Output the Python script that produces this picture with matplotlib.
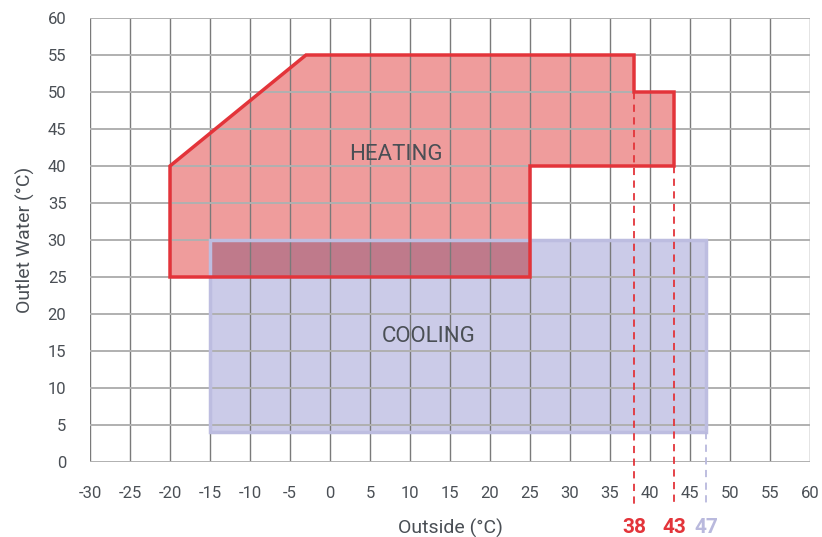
import matplotlib.pyplot as plt
from matplotlib.patches import Polygon, Rectangle

# heating envelope (outside temp, outlet water temp)
heat_x = [-20, -20, -3, 38, 38, 43, 43, 25, 25]
heat_y = [25, 40, 55, 55, 50, 50, 40, 40, 25]

# cooling envelope
cool_x = [-15, 47]
cool_y = [4, 30]

# limit markers
limits = [38, 43, 47]
limit_from = [50, 40, 4]
limit_colors = ['#e3343a', '#e3343a', '#b9b9dd']

xticks = list(range(-30, 61, 5))
yticks = list(range(0, 61, 5))

red = '#e3343a'
lav = '#bdbde0'
txt = '#4a4f55'

plt.rcParams['font.family'] = ['Roboto', 'DejaVu Sans']
plt.rcParams['axes.unicode_minus'] = False

fig = plt.figure(figsize=(8.22, 5.37), dpi=100)
ax = fig.add_axes([90 / 822, 1 - 462 / 537, 720 / 822, 444 / 537])
ax.set_xlim(-30, 60)
ax.set_ylim(0, 60)

# fills
ax.add_patch(Rectangle((cool_x[0], cool_y[0]), cool_x[1] - cool_x[0], cool_y[1] - cool_y[0],
                       facecolor='#cbcbe8', edgecolor='none', zorder=1))
ax.add_patch(Polygon(list(zip(heat_x, heat_y)), closed=True,
                     facecolor='#ef9c9c', edgecolor='none', zorder=1))
# overlap area
ov_x0 = max(cool_x[0], min(heat_x))
ov_x1 = 25
ov_y0 = min(heat_y)
ov_y1 = cool_y[1]
ax.add_patch(Rectangle((ov_x0, ov_y0), ov_x1 - ov_x0, ov_y1 - ov_y0,
                       facecolor='#bf7a8b', edgecolor='none', zorder=1.5))

# grid
for x in xticks:
    ax.axvline(x, color='#7a7a7a', lw=1, zorder=2)
for y in yticks:
    ax.axhline(y, color='#b0b0b0', lw=1.4, zorder=2)

# outlines
ax.add_patch(Rectangle((cool_x[0], cool_y[0]), cool_x[1] - cool_x[0], cool_y[1] - cool_y[0],
                       facecolor='none', edgecolor=lav, lw=2.5, zorder=3))
ax.add_patch(Polygon(list(zip(heat_x, heat_y)), closed=True,
                     facecolor='none', edgecolor=red, lw=2.5, joinstyle='miter', zorder=4))

# limit dashes and labels
for xv, y0, c in zip(limits, limit_from, limit_colors):
    ax.plot([xv, xv], [y0, -5.9], color=c, lw=1.3, ls=(0, (4, 3)), clip_on=False, zorder=5)
    ax.text(xv, -8.9, str(xv), color=c, fontsize=15, fontweight='bold',
            ha='center', va='center', clip_on=False)

ax.text(8.2, 41.6, 'HEATING', fontsize=16, color=txt, ha='center', va='center', zorder=6)
ax.text(12.3, 17.0, 'COOLING', fontsize=16, color=txt, ha='center', va='center', zorder=6)

ax.set_xticks(xticks)
ax.set_yticks(yticks)
ax.tick_params(length=0, pad=17, labelsize=12, colors=txt)
for s in ax.spines.values():
    s.set_visible(False)

ax.set_xlabel('Outside (°C)', fontsize=14, color=txt, labelpad=13)
ax.set_ylabel('Outlet Water (°C)', fontsize=14, color=txt, labelpad=9)

plt.savefig('out.png', dpi=100)
